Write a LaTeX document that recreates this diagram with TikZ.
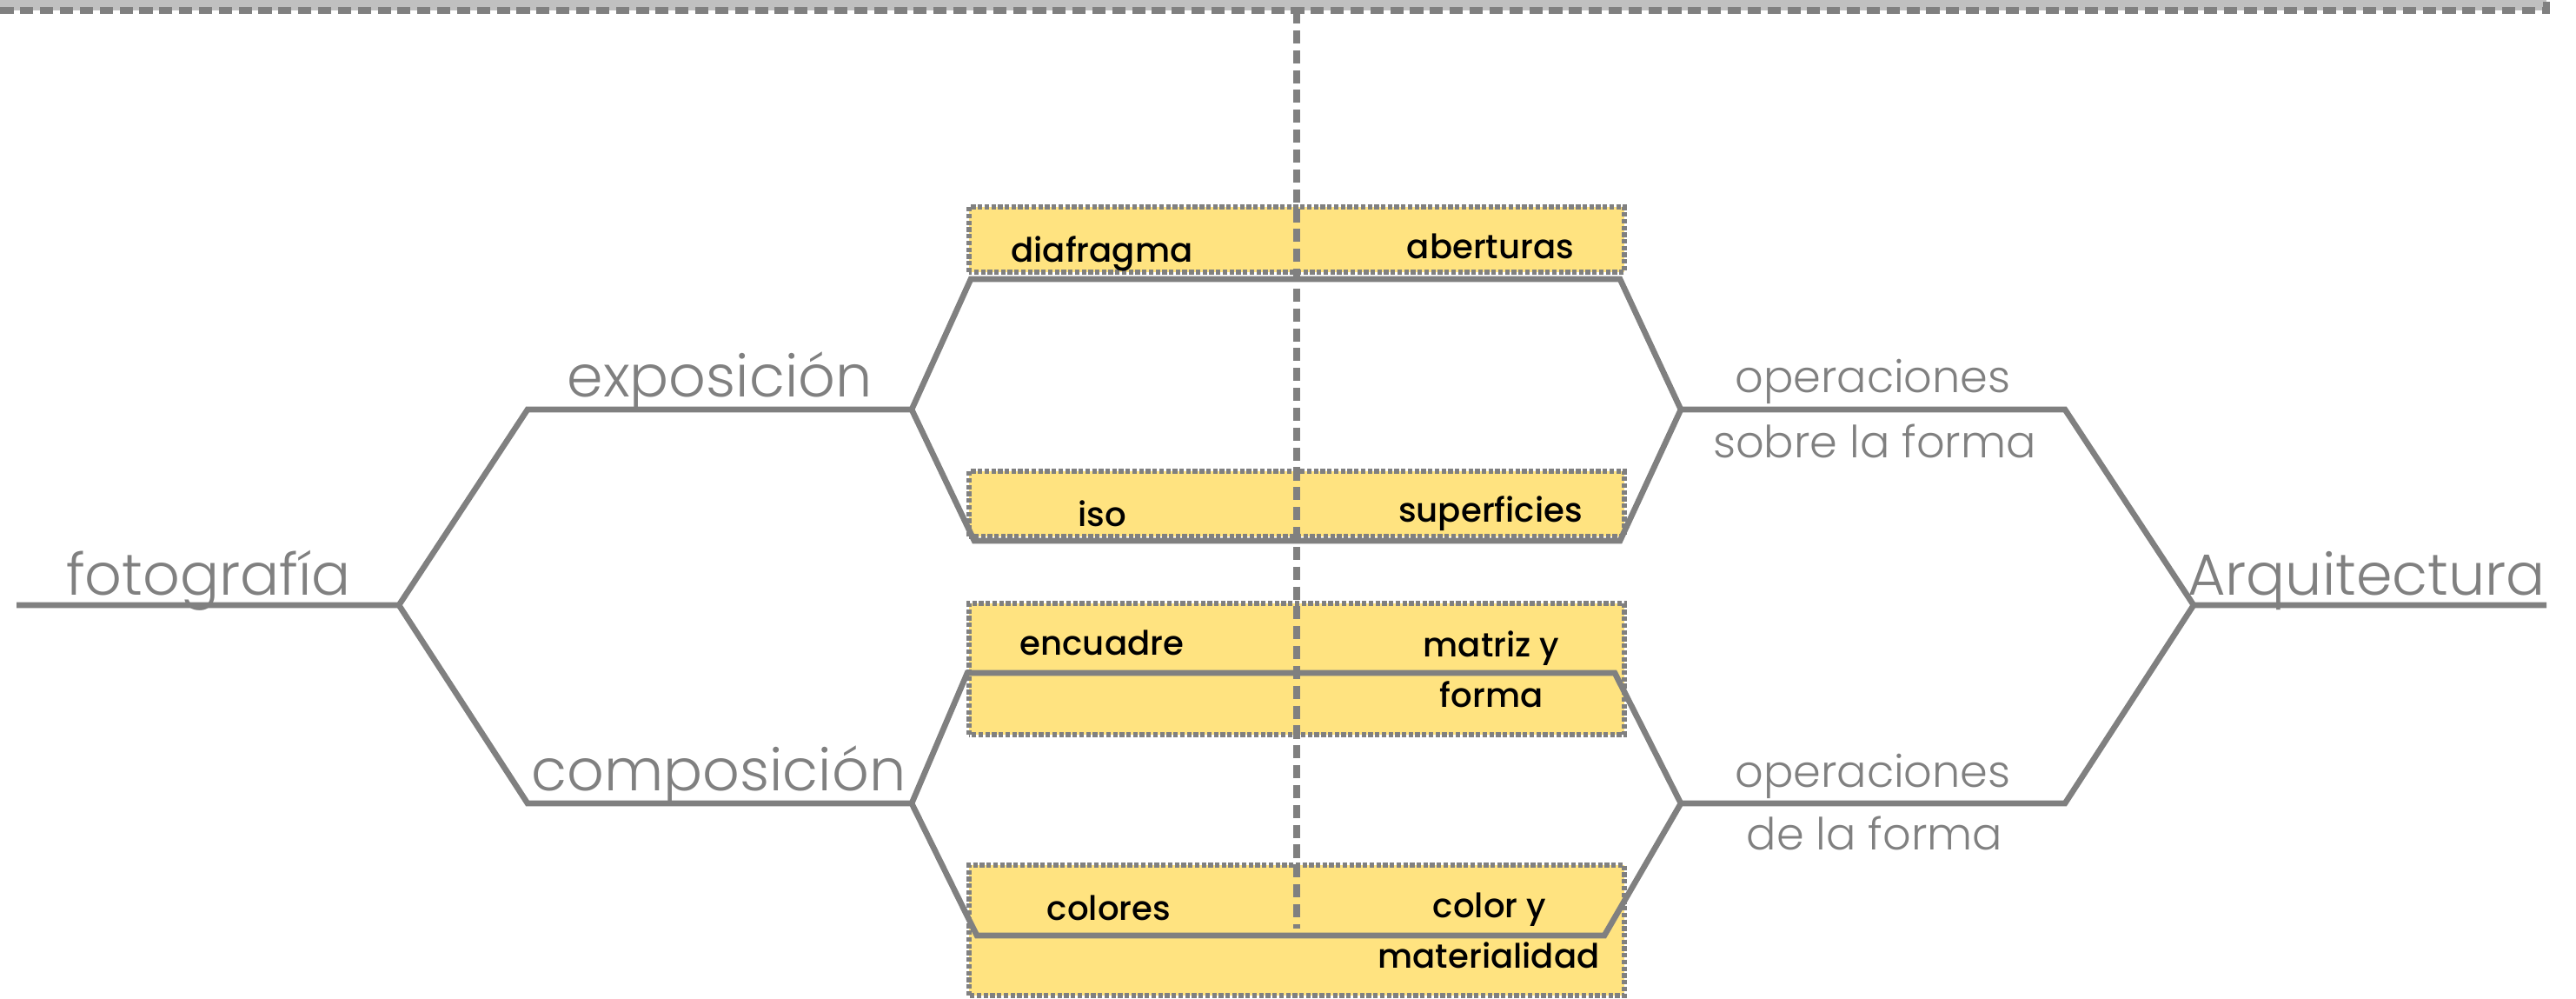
\documentclass[tikz,border=0pt]{standalone}
\usepackage{fontspec}
\setmainfont{Poppins Medium}
\newfontfamily\lightfont{Poppins Light}
\usepackage{xcolor}
\usepackage{tikz}
\usetikzlibrary{positioning}
\definecolor{linegray}{HTML}{808080}
\definecolor{bandgray}{HTML}{C0C0C0}
\definecolor{boxyellow}{HTML}{FFE380}
\tikzset{rama/.style={draw=linegray,line width=1.9pt,line join=miter}}
\tikzset{caja/.style={draw=linegray,fill=boxyellow,line width=1.7pt,dash pattern=on 1.5pt off 0.7pt}}
\tikzset{eje/.style={draw=linegray,line width=2.2pt,dash pattern=on 4.3pt off 2.2pt}}
\tikzset{gris/.style={text=linegray,font=\lightfont\fontsize{19}{22}\selectfont,inner sep=0pt,anchor=base}}
\tikzset{grischico/.style={text=linegray,font=\lightfont\fontsize{14.5}{17}\selectfont,inner sep=0pt,anchor=base}}
\tikzset{etiq/.style={text=black,font=\fontsize{11}{13}\selectfont,inner sep=0pt,anchor=base}}

\begin{document}
\begin{tikzpicture}
    \useasboundingbox (0,0) rectangle (29.64,11.48);

    % banda superior
    \draw[eje,fill=bandgray] (-0.5,11.36) rectangle (29.30,12.5);

    % cajas amarillas
    \draw[caja] (11.15,8.35) rectangle (18.69,9.10);
    \draw[caja] (11.15,5.31) rectangle (18.69,6.06);
    \draw[caja] (11.15,3.03) rectangle (18.69,4.54);
    \draw[caja] (11.15,0.03) rectangle (18.69,1.53);

    % puntos de las ramas
    \coordinate (f0) at (0.19,4.52);
    \coordinate (f1) at (4.59,4.52);
    \coordinate (e0) at (6.07,6.77);
    \coordinate (e1) at (10.49,6.77);
    \coordinate (c0) at (6.07,2.24);
    \coordinate (c1) at (10.49,2.24);
    \coordinate (d0) at (11.17,8.27);
    \coordinate (d1) at (18.64,8.27);
    \coordinate (i0) at (11.21,5.26);
    \coordinate (i1) at (18.64,5.26);
    \coordinate (m0) at (11.13,3.74);
    \coordinate (m1) at (18.58,3.74);
    \coordinate (k0) at (11.24,0.72);
    \coordinate (k1) at (18.46,0.72);
    \coordinate (o0) at (19.34,6.77);
    \coordinate (o1) at (23.76,6.77);
    \coordinate (p0) at (19.34,2.24);
    \coordinate (p1) at (23.76,2.24);
    \coordinate (a0) at (25.24,4.52);
    \coordinate (a1) at (29.30,4.52);

    \draw[rama] (f0) -- (f1) -- (e0) -- (e1);
    \draw[rama] (f1) -- (c0) -- (c1);
    \draw[rama] (e1) -- (d0) -- (d1) -- (o0);
    \draw[rama] (e1) -- (i0) -- (i1) -- (o0) -- (o1) -- (a0) -- (a1);
    \draw[rama] (c1) -- (m0) -- (m1) -- (p0);
    \draw[rama] (c1) -- (k0) -- (k1) -- (p0) -- (p1) -- (a0);

    % textos grises
    \node[gris] (foto) at (2.40,4.64) {fotografía};
    \node[gris] (expo) at (8.28,6.91) {exposición};
    \node[gris] (compo) at (8.27,2.39) {composición};
    \node[gris] (arqui) at (27.23,4.64) {Arquitectura};
    \node[grischico] (opa) at (21.55,6.97) {operaciones};
    \node[grischico] (opb) at (21.57,6.22) {sobre la forma};
    \node[grischico] (opc) at (21.55,2.43) {operaciones};
    \node[grischico] (opd) at (21.57,1.71) {de la forma};

    % textos de las cajas
    \node[etiq] (diaf) at (12.68,8.47) {diafragma};
    \node[etiq] (aber) at (17.15,8.50) {aberturas};
    \node[etiq] (iso) at (12.68,5.43) {iso};
    \node[etiq] (sup) at (17.15,5.48) {superficies};
    \node[etiq] (encu) at (12.68,3.95) {encuadre};
    \node[etiq] (matr) at (17.16,3.93) {matriz y};
    \node[etiq] (form) at (17.16,3.35) {forma};
    \node[etiq] (colo) at (12.76,0.90) {colores};
    \node[etiq] (coly) at (17.14,0.93) {color y};
    \node[etiq] (mate) at (17.13,0.35) {materialidad};

    % eje vertical
    \coordinate (v0) at (14.92,11.36);
    \coordinate (v1) at (14.92,0.80);
    \draw[eje] (v0) -- (v1);
\end{tikzpicture}
\end{document}
